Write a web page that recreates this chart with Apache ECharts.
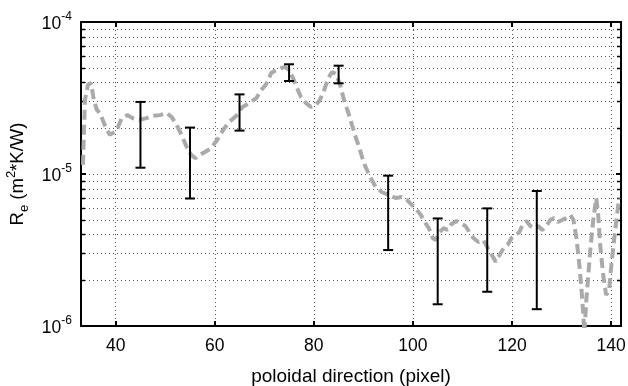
<!DOCTYPE html>
<html><head><meta charset="utf-8">
<script src="https://cdn.jsdelivr.net/npm/echarts@6/dist/echarts.min.js"></script>
<style>html,body{margin:0;padding:0;background:#fff}#c{width:628px;height:386px}</style>
</head><body><div id="c"></div>
<script>
const xTicks = [40, 60, 80, 100, 120, 140];
const yMinor = [2e-6,3e-6,4e-6,5e-6,6e-6,7e-6,8e-6,9e-6,2e-5,3e-5,4e-5,5e-5,6e-5,7e-5,8e-5,9e-5];

const lineX = [33.4,33.6,33.8,34.4,35.0,35.6,36.2,36.8,37.8,38.8,
39.8,40.4,41.2,42.4,43.4,44.8,46.2,47.4,48.9,50.3,
51.3,52.3,53.3,54.3,55.3,56.1,56.9,58.1,59.3,60.5,
61.7,62.9,64.3,65.6,67.0,68.4,69.4,70.4,71.4,72.4,
73.4,74.2,75.0,75.8,76.6,77.4,78.4,79.4,80.4,81.2,
82.1,82.9,83.7,84.5,85.3,86.1,86.9,87.7,88.5,89.3,
90.1,90.9,91.7,92.5,93.7,95.1,96.5,97.7,98.8,99.8,
100.8,101.6,102.4,103.2,104.0,104.6,105.4,106.2,107.0,107.8,
108.8,109.8,110.6,111.4,112.2,113.2,114.2,115.3,116.3,116.7,
117.5,118.3,119.1,119.9,120.7,121.5,122.1,122.9,123.7,124.5,
125.3,126.1,126.9,127.7,128.5,129.3,130.1,130.9,131.8,132.4,
133.0,133.6,134.2,134.6,135.0,135.4,135.8,136.4,137.0,137.4,
137.8,138.4,139.0,139.6,140.0,140.6,141.2,141.6];

const lineY = [1.15e-5,1.95e-5,3.07e-5,3.85e-5,3.97e-5,3.07e-5,2.64e-5,2.52e-5,2.10e-5,1.81e-5,
1.89e-5,2.01e-5,2.33e-5,2.44e-5,2.33e-5,2.27e-5,2.33e-5,2.41e-5,2.44e-5,2.52e-5,
2.37e-5,2.10e-5,1.81e-5,1.51e-5,1.33e-5,1.27e-5,1.33e-5,1.40e-5,1.48e-5,1.68e-5,
1.95e-5,2.20e-5,2.41e-5,2.76e-5,2.93e-5,3.16e-5,3.57e-5,3.91e-5,4.62e-5,4.83e-5,
4.98e-5,5.06e-5,4.83e-5,4.28e-5,3.68e-5,3.21e-5,2.93e-5,2.76e-5,2.84e-5,3.07e-5,
3.57e-5,4.28e-5,4.69e-5,4.55e-5,3.85e-5,3.07e-5,2.56e-5,2.10e-5,1.73e-5,1.44e-5,
1.18e-5,1.03e-5,9.14e-6,8.21e-6,7.61e-6,7.28e-6,6.95e-6,7.06e-6,6.75e-6,6.25e-6,
5.80e-6,5.37e-6,4.83e-6,4.41e-6,3.79e-6,3.68e-6,4.15e-6,4.41e-6,4.28e-6,4.69e-6,
4.91e-6,4.69e-6,4.55e-6,4.15e-6,3.79e-6,3.57e-6,3.68e-6,3.16e-6,2.80e-6,2.64e-6,
2.93e-6,3.26e-6,3.41e-6,3.79e-6,3.97e-6,4.15e-6,4.62e-6,4.91e-6,4.55e-6,4.41e-6,
4.55e-6,4.28e-6,4.55e-6,4.98e-6,5.14e-6,4.83e-6,4.98e-6,5.14e-6,5.37e-6,4.98e-6,
3.79e-6,2.52e-6,1.48e-6,0.9e-6,1.48e-6,2.17e-6,3.16e-6,4.98e-6,6.95e-6,5.37e-6,
3.41e-6,2.17e-6,1.60e-6,1.73e-6,2.41e-6,3.68e-6,5.37e-6,6.95e-6];

const errX = [45, 55, 65, 75, 85, 95, 105, 115, 125];
const errLow = [1.10e-5, 6.9e-6, 1.93e-5, 4.09e-5, 3.95e-5, 3.16e-6, 1.39e-6, 1.68e-6, 1.29e-6];
const errHigh = [2.98e-5, 2.02e-5, 3.34e-5, 5.27e-5, 5.16e-5, 9.75e-6, 5.1e-6, 5.94e-6, 7.73e-6];

const X_MIN = 33, X_MAX = 142, Y_MIN = 1e-6, Y_MAX = 1e-4;
const FONT = 'Liberation Sans, Arial, sans-serif';
const dotted = { color: '#555', width: 1, type: [1, 3] };

const chart = echarts.init(document.getElementById('c'), null, { renderer: 'canvas' });

const tickFmt = v => '{b|10}{s|' + Math.round(Math.log10(v)) + '}';

chart.setOption({
  animation: false,
  backgroundColor: '#fff',
  grid: { left: 81, right: 7, top: 22, bottom: 60, containLabel: false, outerBoundsMode: 'none' },
  xAxis: [{
    type: 'value', min: X_MIN, max: X_MAX,
    axisLine: { show: true, onZero: false, lineStyle: { color: '#000', width: 2 } },
    axisTick: { show: true, inside: true, length: 5, customValues: xTicks, lineStyle: { color: '#000', width: 2 } },
    axisLabel: { customValues: xTicks, margin: 11, color: '#000', fontSize: 17.5, fontFamily: FONT },
    splitLine: { show: true, lineStyle: dotted },
    name: 'poloidal direction (pixel)', nameLocation: 'middle', nameGap: 41,
    nameTextStyle: { color: '#000', fontSize: 19, fontFamily: FONT }
  }, {
    type: 'value', min: X_MIN, max: X_MAX, position: 'top',
    axisLine: { show: true, onZero: false, lineStyle: { color: '#000', width: 2 } },
    axisTick: { show: true, inside: true, length: 5, customValues: xTicks, lineStyle: { color: '#000', width: 2 } },
    axisLabel: { show: false, customValues: xTicks },
    splitLine: { show: false }
  }],
  yAxis: [{
    type: 'log', logBase: 10, min: Y_MIN, max: Y_MAX,
    axisLine: { show: true, onZero: false, lineStyle: { color: '#000', width: 2 } },
    axisTick: { show: true, inside: true, length: 5, lineStyle: { color: '#000', width: 2 } },
    axisLabel: {
      formatter: tickFmt, margin: 9, color: '#000',
      rich: {
        b: { fontSize: 17.5, fontFamily: FONT, color: '#000', lineHeight: 22, verticalAlign: 'bottom' },
        s: { fontSize: 12, fontFamily: FONT, color: '#000', lineHeight: 22, verticalAlign: 'top' }
      }
    },
    splitLine: { show: true, lineStyle: dotted },
    name: '{n|R}{sub|e}{n| (m}{sup|2}{n|*K/W)}', nameLocation: 'middle', nameGap: 48, nameRotate: 90,
    nameTextStyle: {
      rich: {
        n: { fontSize: 18.5, fontFamily: FONT, color: '#000', lineHeight: 26 },
        sub: { fontSize: 13, fontFamily: FONT, color: '#000', lineHeight: 13, verticalAlign: 'bottom' },
        sup: { fontSize: 13, fontFamily: FONT, color: '#000', lineHeight: 13, verticalAlign: 'top' }
      }
    }
  }, {
    type: 'log', logBase: 10, min: Y_MIN, max: Y_MAX, position: 'right',
    axisLine: { show: true, onZero: false, lineStyle: { color: '#000', width: 2 } },
    axisTick: { show: true, inside: true, length: 5, lineStyle: { color: '#000', width: 2 } },
    axisLabel: { show: false },
    splitLine: { show: false }
  }],
  series: [{
    type: 'custom',
    name: 'minor',
    xAxisIndex: 0, yAxisIndex: 0,
    silent: true, z: 1,
    data: yMinor.map(v => [X_MIN, v]),
    encode: { x: 0, y: 1 },
    renderItem: function (params, api) {
      const cs = params.coordSys;
      const y = Math.round(api.coord([api.value(0), api.value(1)])[1]) + 0.5;
      return { type: 'group', children: [
        { type: 'line', shape: { x1: cs.x, y1: y, x2: cs.x + cs.width, y2: y }, style: { stroke: '#555', lineWidth: 1, lineDash: [1, 3] } },
        { type: 'line', shape: { x1: cs.x, y1: y, x2: cs.x + 4, y2: y }, style: { stroke: '#000', lineWidth: 1.5 } },
        { type: 'line', shape: { x1: cs.x + cs.width - 4, y1: y, x2: cs.x + cs.width, y2: y }, style: { stroke: '#000', lineWidth: 1.5 } }
      ] };
    }
  }, {
    type: 'line',
    name: 'Re',
    data: lineX.map((x, i) => [x, lineY[i]]),
    showSymbol: false, symbol: 'none', clip: true,
    lineStyle: { color: '#aaaaaa', width: 4, type: [10, 5] },
    z: 3
  }, {
    type: 'custom',
    name: 'err',
    z: 5,
    data: errX.map((x, i) => [x, errLow[i], errHigh[i]]),
    encode: { x: 0, y: [1, 2] },
    renderItem: function (params, api) {
      const lo = api.coord([api.value(0), api.value(1)]);
      const hi = api.coord([api.value(0), api.value(2)]);
      const w = 5;
      const st = { stroke: '#000', lineWidth: 2 };
      return { type: 'group', children: [
        { type: 'line', shape: { x1: lo[0], y1: lo[1], x2: hi[0], y2: hi[1] }, style: st },
        { type: 'line', shape: { x1: lo[0] - w, y1: lo[1], x2: lo[0] + w, y2: lo[1] }, style: st },
        { type: 'line', shape: { x1: hi[0] - w, y1: hi[1], x2: hi[0] + w, y2: hi[1] }, style: st }
      ] };
    }
  }]
});
</script></body></html>
